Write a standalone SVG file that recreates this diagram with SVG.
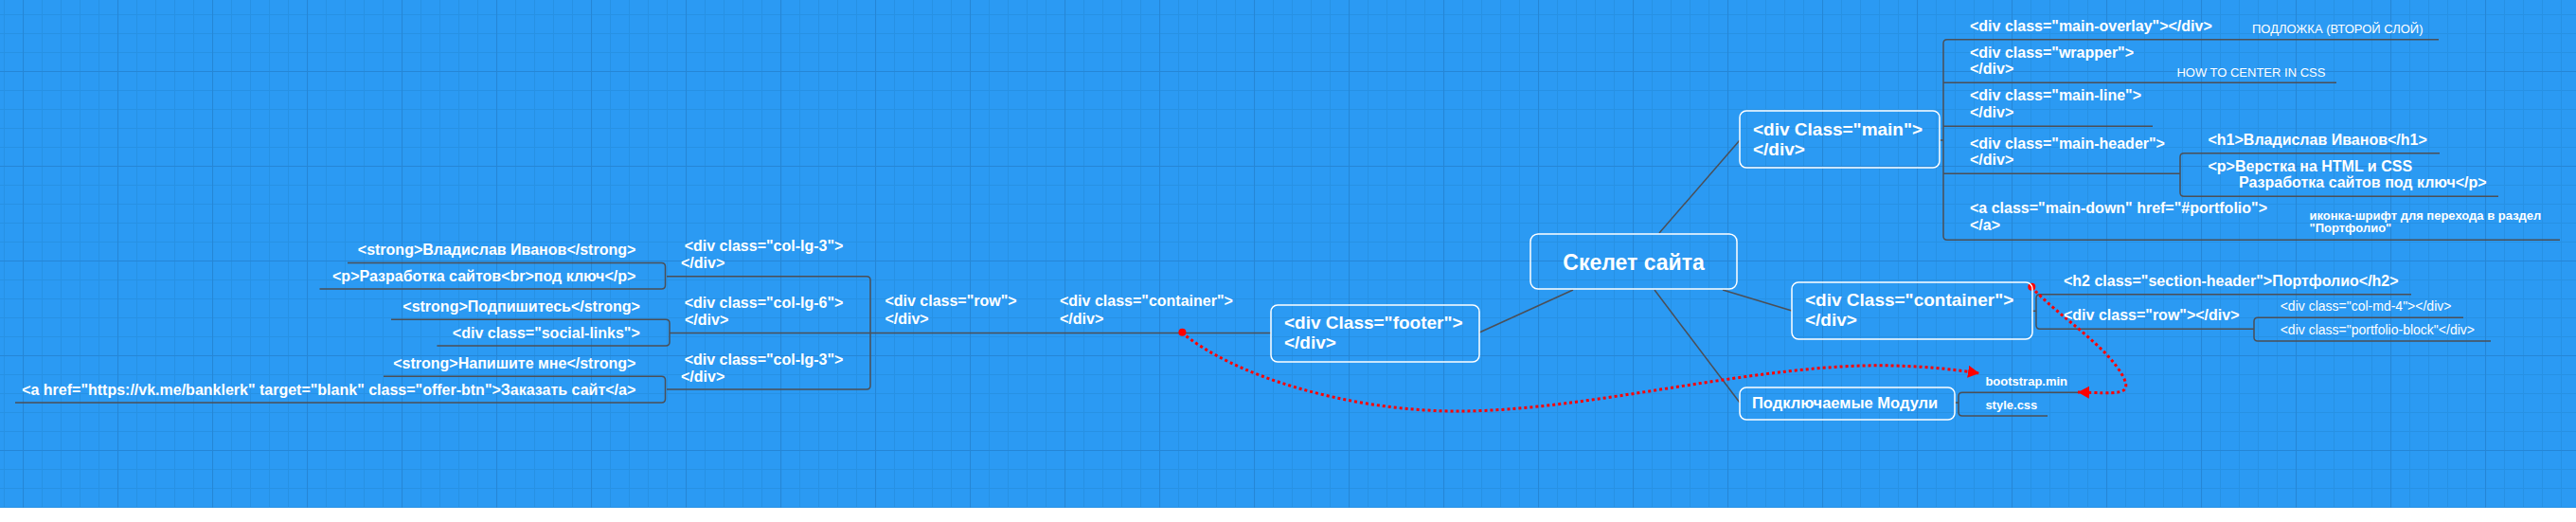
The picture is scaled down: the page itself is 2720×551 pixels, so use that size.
<svg xmlns="http://www.w3.org/2000/svg" width="2720" height="551" viewBox="0 0 2720 551">
<style>
text{fill:#fff;font-family:"Liberation Sans",Arial,"Noto Sans CJK SC",sans-serif}
.b{font-weight:bold;font-size:16px}
.big{font-weight:bold;font-size:19px}
.root{font-weight:bold;font-size:23px}
.mod{font-weight:bold;font-size:16.5px}
.s{font-size:13px}
.sb{font-size:13px;font-weight:bold}
.r14{font-size:14px}
.end{text-anchor:end}
.box{fill:none;stroke:#fff;stroke-width:1.5}
.lnk{fill:none;stroke:#4b4f57;stroke-width:1.5}
.red{fill:none;stroke:#f00;stroke-width:3;stroke-dasharray:3 3}
</style>
<defs>
<pattern id="minor" x="4" y="15" width="20" height="20" patternUnits="userSpaceOnUse">
<path d="M0,0.5H20M0.5,0V20" stroke="#2791e4" stroke-width="1" fill="none"/>
</pattern>
<pattern id="major" x="24" y="75" width="100" height="100" patternUnits="userSpaceOnUse">
<path d="M0,0.5H100M0.5,0V100" stroke="#2586d6" stroke-width="1.2" fill="none"/>
</pattern>
<marker id="arr" markerUnits="userSpaceOnUse" markerWidth="14" markerHeight="14" refX="12" refY="6.5" orient="auto">
<path d="M0,0L12,6.5L0,13z" fill="#f00"/>
</marker>
</defs>
<rect width="2720" height="551" fill="#fff"/>
<rect width="2720" height="536" fill="#2b9af3"/>
<rect width="2720" height="536" fill="url(#minor)"/>
<rect width="2720" height="536" fill="url(#major)"/>

<g id="connectors">
<path class="lnk" d="M1752,246L1837,148"/>
<path class="lnk" d="M1819,306L1892,328"/>
<path class="lnk" d="M1661,306L1562,351"/>
<path class="lnk" d="M1747,306L1837,425"/>
<path class="lnk" d="M2048,148H2052"/>
<path class="lnk" d="M2575,41.7H2056Q2052,41.7 2052,45.7V249.3Q2052,253.3 2056,253.3H2703"/>
<path class="lnk" d="M2052,87.3H2467M2052,133.3H2273M2052,183.3H2302"/>
<path class="lnk" d="M2576,161.7H2306Q2302,161.7 2302,165.7V203.3Q2302,207.3 2306,207.3H2638"/>
<path class="lnk" d="M2146,328.3H2150"/>
<path class="lnk" d="M2546,310.7H2154Q2150,310.7 2150,314.7V343.3Q2150,347.3 2154,347.3H2380"/>
<path class="lnk" d="M2601,335.3H2384Q2380,335.3 2380,339.3V356Q2380,360 2384,360H2630"/>
<path class="lnk" d="M2064,425H2068"/>
<path class="lnk" d="M2200,414.3H2072Q2068,414.3 2068,418.3V435Q2068,439 2072,439H2162"/>
<path class="lnk" d="M704,291.7H915Q919,291.7 919,295.7V407Q919,411 915,411H704"/>
<path class="lnk" d="M707,351.5H1342"/>
<path class="lnk" d="M367,277.5H698.5Q702.5,277.5 702.5,281.5V301Q702.5,305 698.5,305H337.5"/>
<path class="lnk" d="M413,337.3H703Q707,337.3 707,341.3V361Q707,365 703,365H461.4"/>
<path class="lnk" d="M405,397.3H698.5Q702.5,397.3 702.5,401.3V421Q702.5,425 698.5,425H16"/>
<path class="red" d="M1248,351C1300,395 1420,434 1540,434C1680,434 1860,382 2000,386C2040,387 2070,391 2090,394" marker-end="url(#arr)"/>
<path class="red" d="M2145,303C2175,335 2225,365 2242,398C2252,418 2235,415 2194,414" marker-end="url(#arr)"/>
<circle cx="1248.4" cy="350.7" r="4" fill="#f00"/>
<circle cx="2145.3" cy="302.7" r="4" fill="#f00"/>
</g>

<g id="root"><rect class="box" x="1616" y="247" width="218" height="58" rx="8"/><text class="root" x="1725" y="285" text-anchor="middle">Скелет сайта</text></g>
<g id="main"><rect class="box" x="1837" y="117" width="211" height="60" rx="7"/><text class="big" x="1851" y="142.7">&lt;div Class="main"&gt;</text><text class="big" x="1851" y="164">&lt;/div&gt;</text></g>
<g id="container-right"><rect class="box" x="1892" y="298" width="254" height="60" rx="7"/><text class="big" x="1906" y="323.3">&lt;div Class="container"&gt;</text><text class="big" x="1906" y="344">&lt;/div&gt;</text></g>
<g id="footer"><rect class="box" x="1342" y="322" width="220" height="60" rx="7"/><text class="big" x="1356" y="346.7">&lt;div Class="footer"&gt;</text><text class="big" x="1356" y="368">&lt;/div&gt;</text></g>
<g id="modules"><rect class="box" x="1837" y="409" width="227" height="34" rx="7"/><text class="mod" x="1850" y="431">Подключаемые Модули</text></g>

<g id="main-overlay"><text class="b" x="2080" y="32.7">&lt;div class="main-overlay"&gt;&lt;/div&gt;</text><text class="s" x="2378" y="35">ПОДЛОЖКА (ВТОРОЙ СЛОЙ)</text></g>
<g id="wrapper"><text class="b" x="2080" y="60.7">&lt;div class="wrapper"&gt;</text><text class="b" x="2080" y="78.3">&lt;/div&gt;</text><text class="s" x="2298.4" y="81">HOW TO CENTER IN CSS</text></g>
<g id="main-line"><text class="b" x="2080" y="106">&lt;div class="main-line"&gt;</text><text class="b" x="2080" y="124">&lt;/div&gt;</text></g>
<g id="main-header"><text class="b" x="2080" y="156.7">&lt;div class="main-header"&gt;</text><text class="b" x="2080" y="174.3">&lt;/div&gt;</text></g>
<g id="h1"><text class="b" x="2331.5" y="153.3">&lt;h1&gt;Владислав Иванов&lt;/h1&gt;</text></g>
<g id="p-main"><text class="b" x="2331.5" y="181">&lt;p&gt;Верстка на HTML и CSS</text><text class="b" x="2364" y="198.3">Разработка сайтов под ключ&lt;/p&gt;</text></g>
<g id="main-down"><text class="b" x="2080" y="225">&lt;a class="main-down" href="#portfolio"&gt;</text><text class="b" x="2080" y="242.7">&lt;/a&gt;</text><text class="sb" x="2438.5" y="231.7">иконка-шрифт для перехода в раздел</text><text class="sb" x="2438.5" y="245">"Портфолио"</text></g>

<g id="h2"><text class="b" x="2179" y="301.7">&lt;h2 class="section-header"&gt;Портфолио&lt;/h2&gt;</text></g>
<g id="row-right"><text class="b" x="2179" y="338.3">&lt;div class="row"&gt;&lt;/div&gt;</text></g>
<g id="col-md-4"><text class="r14" x="2407.7" y="328.3">&lt;div class="col-md-4"&gt;&lt;/div&gt;</text></g>
<g id="portfolio-block"><text class="r14" x="2407.7" y="352.7">&lt;div class="portfolio-block"&lt;/div&gt;</text></g>

<g id="bootstrap"><text class="sb" x="2096.4" y="407.3">bootstrap.min</text></g>
<g id="style-css"><text class="sb" x="2096.4" y="432.3">style.css</text></g>

<g id="container-left"><text class="b" x="1119" y="323.3">&lt;div class="container"&gt;</text><text class="b" x="1119" y="341.7">&lt;/div&gt;</text></g>
<g id="row-left"><text class="b" x="934.4" y="323.3">&lt;div class="row"&gt;</text><text class="b" x="934.4" y="341.7">&lt;/div&gt;</text></g>
<g id="col-lg-3-a"><text class="b" x="722.7" y="265">&lt;div class="col-lg-3"&gt;</text><text class="b" x="719" y="283.3">&lt;/div&gt;</text></g>
<g id="col-lg-6"><text class="b" x="722.7" y="325">&lt;div class="col-lg-6"&gt;</text><text class="b" x="723" y="343.3">&lt;/div&gt;</text></g>
<g id="col-lg-3-b"><text class="b" x="722.7" y="385">&lt;div class="col-lg-3"&gt;</text><text class="b" x="719" y="403.3">&lt;/div&gt;</text></g>

<g id="strong-name"><text class="b end" x="671.3" y="269">&lt;strong&gt;Владислав Иванов&lt;/strong&gt;</text></g>
<g id="p-dev"><text class="b end" x="671.3" y="296.7">&lt;p&gt;Разработка сайтов&lt;br&gt;под ключ&lt;/p&gt;</text></g>
<g id="strong-sub"><text class="b end" x="675.8" y="329.3">&lt;strong&gt;Подпишитесь&lt;/strong&gt;</text></g>
<g id="social-links"><text class="b end" x="675.8" y="356.7">&lt;div class="social-links"&gt;</text></g>
<g id="strong-write"><text class="b end" x="671.3" y="389">&lt;strong&gt;Напишите мне&lt;/strong&gt;</text></g>
<g id="offer-btn"><text class="b end" x="671.3" y="416.7">&lt;a href="https://vk.me/banklerk" target="blank" class="offer-btn"&gt;Заказать сайт&lt;/a&gt;</text></g>
</svg>
